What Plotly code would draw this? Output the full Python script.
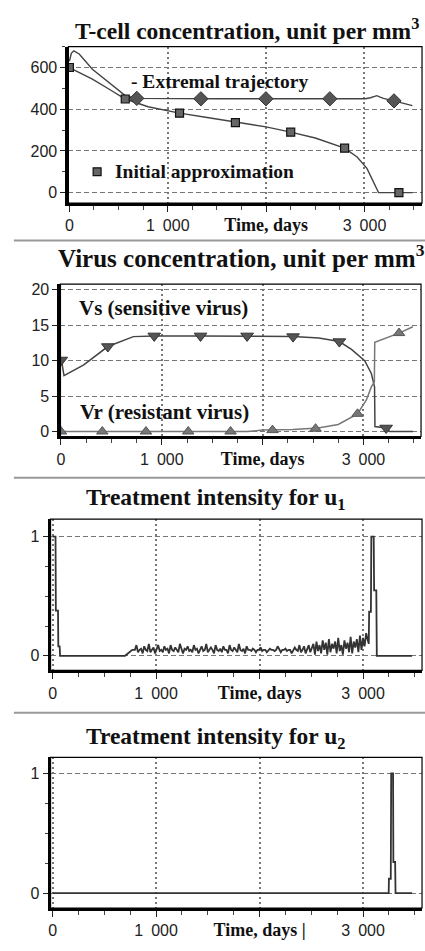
import plotly.graph_objects as go

# ---------------- Panel 1: T-cell concentration ----------------
ext_t = [0, 20, 45, 100, 234, 401, 568, 679, 1000, 1500, 2000, 2500, 3009, 3060, 3100, 3126, 3160, 3193, 3300, 3410, 3487]
ext_v = [630, 668, 680, 665, 592, 528, 465, 452, 450, 450, 450, 450, 450, 455, 462, 465, 458, 452, 440, 425, 417]
ext_mark_t = [685, 1337, 1998, 2648, 3300]
ext_mark_v = [452, 450, 450, 450, 440]

ini_t = [0, 100, 234, 401, 568, 800, 1000, 1120, 1400, 1688, 2000, 2250, 2500, 2798, 2925, 3025, 3092, 3143, 3350, 3490]
ini_v = [600, 575, 544, 497, 449, 412, 392, 381, 360, 338, 315, 290, 262, 213, 171, 116, 52, 0, 0, 0]
ini_mark_t = [0, 568, 1120, 1688, 2250, 2798, 3350]
ini_mark_v = [600, 449, 381, 336, 290, 213, 0]

# ---------------- Panel 2: Virus concentration ----------------
vs_t = [0, 30, 226, 465, 718, 925, 1384, 1846, 2302, 2557, 2761, 2881, 3012, 3078, 3110, 3114, 3225, 3260, 3490]
vs_v = [10.5, 7.9, 9.4, 12.0, 13.4, 13.5, 13.5, 13.5, 13.4, 13.2, 12.7, 11.6, 10.0, 8.2, 6.3, 0.7, 0.5, 0.0, 0.0]
vs_mark_t = [3, 465, 925, 1384, 1846, 2302, 2761, 3225]
vs_mark_v = [10.1, 12.0, 13.5, 13.5, 13.5, 13.4, 12.7, 0.5]

vr_t = [0, 1850, 2000, 2300, 2550, 2750, 2941, 3030, 3078, 3108, 3112, 3353, 3490]
vr_v = [0, 0, 0.2, 0.3, 0.5, 1.0, 2.5, 4.5, 6.3, 7.0, 12.6, 13.9, 14.8]
vr_mark_t = [0, 410, 843, 1262, 1682, 2098, 2525, 2941, 3353]
vr_mark_v = [0, 0, 0, 0, 0, 0.2, 0.4, 2.5, 13.9]

# ---------------- Panel 3: treatment u1 ----------------
u1_head_t = [0, 28, 31, 52, 55, 68, 72, 700, 770]
u1_head_v = [1.0, 1.0, 0.38, 0.38, 0.08, 0.08, 0.0, 0.0, 0.05]
u1_noise_start = 795
u1_noise_step = 15
u1_noise_v = [
    0.05, 0.09, 0.03, 0.05, 0.06, 0.02, 0.08, 0.05, 0.04, 0.10, 0.03, 0.05,
    0.07, 0.02, 0.05, 0.09, 0.04, 0.05, 0.03, 0.08, 0.05, 0.06, 0.02, 0.09,
    0.05, 0.04, 0.07, 0.05, 0.03, 0.10, 0.05, 0.02, 0.06, 0.05, 0.08, 0.04,
    0.05, 0.03, 0.09, 0.05, 0.06, 0.02, 0.05, 0.08, 0.04, 0.05, 0.10, 0.03,
    0.05, 0.07, 0.05, 0.02, 0.09, 0.05, 0.04, 0.06, 0.03, 0.08, 0.05, 0.05,
    0.02, 0.09, 0.05, 0.04, 0.07, 0.05, 0.03, 0.10, 0.05, 0.04, 0.06, 0.02,
    0.08, 0.05, 0.05, 0.04, 0.06, 0.05, 0.03, 0.05, 0.05, 0.07, 0.04, 0.05,
    0.05, 0.03, 0.05, 0.06, 0.05, 0.05, 0.04, 0.05, 0.08, 0.05, 0.03, 0.05,
    0.05, 0.06, 0.04, 0.05, 0.05, 0.02, 0.05, 0.07, 0.05, 0.04, 0.09, 0.03,
    0.05, 0.08, 0.02, 0.06, 0.09, 0.03, 0.07,
    0.10, 0.01, 0.12, 0.04, 0.09, 0.02, 0.13, 0.05, 0.11, 0.01, 0.14, 0.03,
    0.10, 0.06, 0.12, 0.02, 0.15, 0.04, 0.09, 0.01, 0.13, 0.06, 0.11, 0.03,
    0.16, 0.02, 0.12, 0.07, 0.14, 0.03, 0.17, 0.05, 0.15, 0.08, 0.19]
u1_tail_t = [3055, 3059, 3076, 3080, 3103, 3107, 3128, 3133, 3474]
u1_tail_v = [0.10, 0.37, 0.37, 1.0, 1.0, 0.55, 0.55, 0.0, 0.0]

# ---------------- Panel 4: treatment u2 ----------------
u2_t = [0, 3248, 3250, 3268, 3272, 3290, 3293, 3310, 3314, 3474]
u2_v = [0, 0, 0.12, 0.12, 1.0, 1.0, 0.26, 0.26, 0, 0]

# ---------------- Text ----------------
titles = ["T-cell concentration, unit per mm<sup>3</sup>",
          "Virus concentration, unit per mm<sup>3</sup>",
          "Treatment intensity for u<sub>1</sub>",
          "Treatment intensity for u<sub>2</sub>"]
xlab = ["Time, days", "Time, days", "Time, days", "Time, days |"]
x_tickvals = [0, 1000, 2000, 3000]
x_ticktext = ["0", "1\u2002000", None, "3\u2002000"]

W, H = 425, 951
def fx(p):
    return p / W
def fy(p):
    return 1 - p / H

panels = [
    dict(x0=65, x1=422, yt=44, yb=201.7, xr=[-10, 3585], yr=[-51, 700], dt=200, mdt=100),
    dict(x0=57, x1=421, yt=283.3, yb=436.7, xr=[-5, 3571], yr=[-0.7, 20.8], dt=5, mdt=None),
    dict(x0=47, x1=422, yt=520, yb=672.3, xr=[-20, 3570], yr=[-0.122, 1.147], dt=1, mdt=0.25),
    dict(x0=47, x1=422, yt=760, yb=911.7, xr=[-20, 3570], yr=[-0.124, 1.133], dt=1, mdt=0.25),
]

u1_noise_t = [u1_noise_start + i * u1_noise_step for i in range(len(u1_noise_v))]
u1_t = u1_head_t + u1_noise_t + u1_tail_t
u1_v = u1_head_v + u1_noise_v + u1_tail_v

fig = go.Figure()

def ax(i):
    return ("x" if i == 0 else f"x{i+1}"), ("y" if i == 0 else f"y{i+1}")

# Panel 1 traces
xa, ya = ax(0)
fig.add_trace(go.Scatter(x=ext_t, y=ext_v, mode="lines", line=dict(color="#444", width=1.4), xaxis=xa, yaxis=ya))
fig.add_trace(go.Scatter(x=ini_t, y=ini_v, mode="lines", line=dict(color="#444", width=1.4), xaxis=xa, yaxis=ya))
fig.add_trace(go.Scatter(x=ext_mark_t, y=ext_mark_v, mode="markers",
                         marker=dict(symbol="diamond", size=11, color="#555", line=dict(color="#333", width=1)),
                         xaxis=xa, yaxis=ya))
fig.add_trace(go.Scatter(x=ini_mark_t, y=ini_mark_v, mode="markers",
                         marker=dict(symbol="square", size=8, color="#666", line=dict(color="#111", width=1.2)),
                         xaxis=xa, yaxis=ya))
# Panel 2 traces
xa, ya = ax(1)
fig.add_trace(go.Scatter(x=vs_t, y=vs_v, mode="lines", line=dict(color="#444", width=1.5), xaxis=xa, yaxis=ya))
fig.add_trace(go.Scatter(x=vr_t, y=vr_v, mode="lines", line=dict(color="#777", width=1.5), xaxis=xa, yaxis=ya))
fig.add_trace(go.Scatter(x=vs_mark_t, y=vs_mark_v, mode="markers",
                         marker=dict(symbol="triangle-down", size=11, color="#555", line=dict(color="#333", width=1)),
                         xaxis=xa, yaxis=ya))
fig.add_trace(go.Scatter(x=vr_mark_t, y=vr_mark_v, mode="markers",
                         marker=dict(symbol="triangle-up", size=10, color="#777", line=dict(color="#555", width=1)),
                         xaxis=xa, yaxis=ya))
# Panel 3
xa, ya = ax(2)
fig.add_trace(go.Scatter(x=u1_t, y=u1_v, mode="lines", line=dict(color="#333", width=1.8), xaxis=xa, yaxis=ya))
# Panel 4
xa, ya = ax(3)
fig.add_trace(go.Scatter(x=u2_t, y=u2_v, mode="lines", line=dict(color="#333", width=1.8), xaxis=xa, yaxis=ya))

layout = dict(width=W, height=H, margin=dict(l=0, r=0, t=0, b=0), showlegend=False,
              paper_bgcolor="white", plot_bgcolor="white",
              font=dict(family="Liberation Sans", size=15, color="#222"))
shapes = []
annotations = []
tick_font = dict(family="Liberation Sans", size=16, color="#222")
for i, p in enumerate(panels):
    xa, ya = ax(i)
    xk = "xaxis" if i == 0 else f"xaxis{i+1}"
    yk = "yaxis" if i == 0 else f"yaxis{i+1}"
    ttext = [t if t is not None else
             f"<span style='font-family:Liberation Serif;font-weight:bold;font-size:18px;fill:#111'>{xlab[i]}</span>"
             for t in x_ticktext]
    layout[xk] = dict(domain=[fx(p["x0"]), fx(p["x1"])], range=p["xr"], anchor=ya,
                      tickmode="array", tickvals=x_tickvals, ticktext=ttext,
                      ticks="outside", ticklen=6, tickwidth=1, tickcolor="#222",
                      minor=dict(dtick=250, tick0=0, ticks="outside", ticklen=4, tickcolor="#444", showgrid=False),
                      showgrid=True, gridcolor="#777", gridwidth=2, griddash="2px,3px",
                      showline=True, linecolor="black", linewidth=3, zeroline=False,
                      tickfont=tick_font, fixedrange=True)
    ydict = dict(domain=[fy(p["yb"]), fy(p["yt"])], range=p["yr"], anchor=xa,
                 tickmode="linear", tick0=0, dtick=p["dt"],
                 ticks="outside", ticklen=5, tickwidth=1, tickcolor="#222",
                 showgrid=True, gridcolor="#777", gridwidth=1, griddash="5px,3px",
                 showline=True, linecolor="black", linewidth=3, zeroline=False,
                 tickfont=tick_font, fixedrange=True)
    if p["mdt"]:
        ydict["minor"] = dict(dtick=p["mdt"], tick0=0, ticks="outside", ticklen=3, tickcolor="#444", showgrid=False)
    layout[yk] = ydict
    shapes.append(dict(type="rect", xref=f"{xa} domain", yref=f"{ya} domain", x0=0, x1=1, y0=0, y1=1,
                       line=dict(color="black", width=1.2), layer="above"))

title_pos = [(245, 26, 23.5), (240, 255, 25), (214, 500, 23.5), (214, 740, 23.5)]
for (cx, cy, sz), t in zip(title_pos, titles):
    annotations.append(dict(xref="paper", yref="paper", x=fx(cx), y=fy(cy), xanchor="center", yanchor="middle",
                            showarrow=False, text=f"<b>{t}</b>",
                            font=dict(family="Liberation Serif", size=sz, color="#111")))

labels = [("- Extremal trajectory", 218, 79, 19.5),
          ("Initial approximation", 202, 170, 19.5),
          ("Vs (sensitive virus)", 161, 307, 21),
          ("Vr (resistant virus)", 162, 412, 21)]
for txt, cx, cy, sz in labels:
    annotations.append(dict(xref="paper", yref="paper", x=fx(cx), y=fy(cy), xanchor="center", yanchor="middle",
                            showarrow=False, text=f"<b>{txt}</b>",
                            font=dict(family="Liberation Serif", size=sz, color="#111")))

# legend square next to "Initial approximation"
shapes.append(dict(type="rect", xref="paper", yref="paper", x0=fx(90), x1=fx(98), y0=fy(174), y1=fy(166),
                   fillcolor="#666", line=dict(color="#111", width=1.2)))

# separators between panels
for sy in [239.3, 478.3, 715]:
    shapes.append(dict(type="line", xref="paper", yref="paper", x0=fx(10), x1=1, y0=fy(sy), y1=fy(sy),
                       line=dict(color="#999", width=2)))

layout["shapes"] = shapes
layout["annotations"] = annotations
fig.update_layout(**layout)
fig.write_html("out.html")
